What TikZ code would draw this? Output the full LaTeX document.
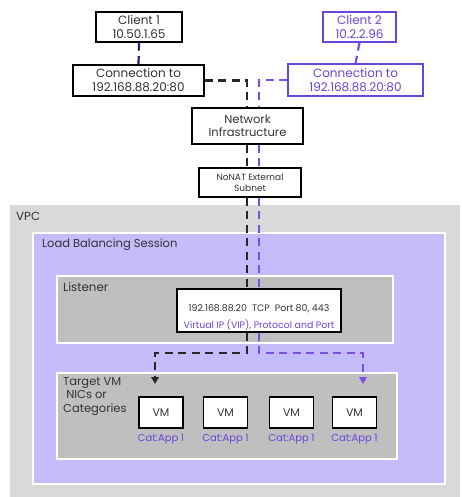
\documentclass[tikz,border=0pt]{standalone}
\usepackage{fontspec}
\setmainfont{Poppins}
\usetikzlibrary{arrows.meta}
\definecolor{vpcgray}{HTML}{D9D9D9}
\definecolor{boxgray}{HTML}{BFBFBF}
\definecolor{lavender}{HTML}{C5BCFC}
\definecolor{route}{HTML}{7B4FE6}
\definecolor{routetext}{HTML}{6A45DC}
\definecolor{darkroute}{HTML}{2E1A6B}
\definecolor{ink}{HTML}{333333}
\tikzset{
  plainbox/.style={draw=black, line width=1.3pt, fill=white, inner sep=0pt, align=center, text=ink},
  zone/.style={draw=white, line width=1.5pt},
  zonelabel/.style={anchor=west, inner sep=0pt, text=ink, font=\fontsize{11.8}{14}\selectfont},
  blkroute/.style={draw=black!85, line width=2.2pt, dash pattern=on 8pt off 5.5pt},
  purroute/.style={draw=route, line width=2.2pt, dash pattern=on 8pt off 5.5pt},
  tip/.style={-{Triangle[length=7pt,width=7.5pt]}},
  catlabel/.style={inner sep=0pt, text=routetext, font=\fontsize{10}{12}\selectfont},
  mainfont/.style={font=\fontsize{12}{14}\selectfont},
}
\begin{document}
\begin{tikzpicture}[x=1pt,y=-1pt]
\useasboundingbox (0,0) rectangle (462,497);
% nested zones
\fill[vpcgray] (10,205) rectangle (460,497);
\draw[zone, fill=lavender] (33,233) rectangle (445,484);
\draw[zone, fill=boxgray] (57,276) rectangle (393,343);
\draw[zone, fill=boxgray] (57,373) rectangle (397,459);
\node[zonelabel] (vpclbl) at (16,216) {VPC};
\node[zonelabel, font=\fontsize{11.5}{14}\selectfont] (lbslbl) at (42,245) {Load Balancing Session};
\node[zonelabel] (lsnlbl) at (63,287) {Listener};
\node[zonelabel, align=left, font=\fontsize{11.5}{13.5}\selectfont, anchor=north west] (tgtlbl) at (63,377) {Target VM\\\ NICs or\\Categories};

% clients and connections
\node[plainbox, mainfont, minimum width=86pt, minimum height=30pt] (c1) at (139,27) {Client 1\\10.50.1.65};
\node[plainbox, mainfont, draw=routetext, text=routetext, minimum width=73pt, minimum height=30pt] (c2) at (359.5,27) {Client 2\\10.2.2.96};
\node[plainbox, mainfont, minimum width=131pt, minimum height=31pt] (conn1) at (138.5,80.5) {Connection to\\192.168.88.20:80};
\node[plainbox, mainfont, draw=routetext, text=routetext, minimum width=135pt, minimum height=32pt] (conn2) at (355.5,80) {Connection to\\192.168.88.20:80};

% network path
\node[plainbox, minimum width=111pt, minimum height=36pt, font=\fontsize{11.5}{13.5}\selectfont] (ni) at (247.5,126) {Network\\Infrastructure};
\node[plainbox, minimum width=102pt, minimum height=29pt, font=\fontsize{9}{11}\selectfont] (nonat) at (250,182.5) {NoNAT External\\Subnet};

% listener VIP
\node[plainbox, minimum width=164pt, minimum height=43pt] (vip) at (259,310.5) {};
\node[inner sep=0pt, text=ink, font=\fontsize{9.4}{11}\selectfont] (viptxt) at (259,309) {192.168.88.20\ \ TCP\ \ Port 80, 443};
\node[inner sep=0pt, text=routetext, font=\fontsize{9.4}{11}\selectfont] (vipsub) at (259,325) {Virtual IP (VIP), Protocol and Port};

% target VMs
\foreach \i/\x in {1/161,2/225.5,3/291.5,4/354.5}{
  \node[plainbox, minimum width=44pt, minimum height=31pt, font=\fontsize{11}{13}\selectfont] (vm\i) at (\x,412.5) {VM};
  \node[catlabel] (cat\i) at (\x,439) {Cat:App 1};
}

% route guide coordinates
\coordinate (xb) at (247,0);
\coordinate (xp) at (259,0);
\coordinate (tb) at (155,353);
\coordinate (ab) at (155,384);
\coordinate (tp) at (363,353);
\coordinate (ap) at (363,384);

% client 1 route
\draw[line width=2.2pt, draw=darkroute, dash pattern=on 8pt off 5.5pt] (c1.south) -- (conn1.north);
\draw[blkroute] (conn1.east) -| (ni.north -| xb);
\draw[blkroute] (ni.south -| xb) -- (nonat.north -| xb);
\draw[blkroute] (nonat.south -| xb) -- (vip.north -| xb);
\draw[blkroute, tip] (vip.south -| xb) |- (tb) -- (ab);

% client 2 route
\draw[purroute] (c2.south) -- (conn2.north);
\draw[purroute] (conn2.west) -| (ni.north -| xp);
\draw[purroute] (ni.south -| xp) -- (nonat.north -| xp);
\draw[purroute] (nonat.south -| xp) -- (vip.north -| xp);
\draw[purroute, tip] (vip.south -| xp) |- (tp) -- (ap);
\end{tikzpicture}
\end{document}
